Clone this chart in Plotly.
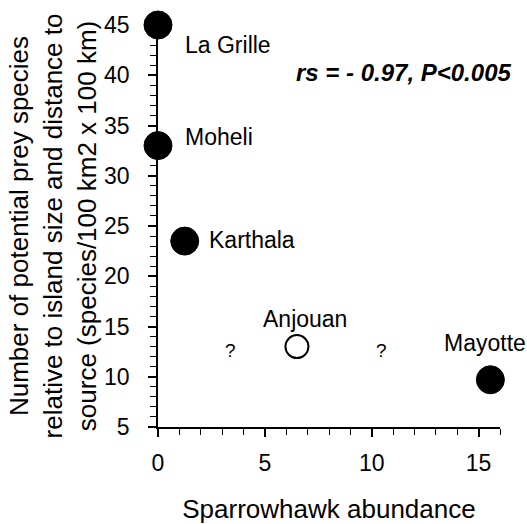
import plotly.graph_objects as go

# ---- data ----
islands = ["La Grille", "Moheli", "Karthala", "Anjouan", "Mayotte"]
sparrowhawk_abundance = [0.0, 0.0, 1.25, 6.5, 15.55]
prey_species_index = [45.0, 33.0, 23.5, 13.0, 9.7]
is_open = [False, False, False, True, False]

label_x = [1.15, 1.15, 2.3, 6.9, 15.28]
label_y = [43.0, 33.9, 23.6, 15.75, 13.35]
label_anchor = ["left", "left", "left", "center", "center"]

question_x = [3.4, 10.47]
question_y = [12.6, 12.6]

stat_text = "rs = - 0.97, P<0.005"

x_ticks = [0, 5, 10, 15]
y_ticks = [5, 10, 15, 20, 25, 30, 35, 40, 45]

FONT = "Liberation Sans, Arial, sans-serif"

fig = go.Figure()

filled_x = [x for x, o in zip(sparrowhawk_abundance, is_open) if not o]
filled_y = [y for y, o in zip(prey_species_index, is_open) if not o]
open_x = [x for x, o in zip(sparrowhawk_abundance, is_open) if o]
open_y = [y for y, o in zip(prey_species_index, is_open) if o]

fig.add_trace(go.Scatter(
    x=filled_x, y=filled_y, mode="markers",
    marker=dict(size=28, color="black", line=dict(color="black", width=1)),
    cliponaxis=False, showlegend=False,
))
fig.add_trace(go.Scatter(
    x=open_x, y=open_y, mode="markers",
    marker=dict(size=23, color="white", line=dict(color="black", width=2)),
    cliponaxis=False, showlegend=False,
))

annotations = []
for name, lx, ly, anc in zip(islands, label_x, label_y, label_anchor):
    annotations.append(dict(
        x=lx, y=ly, xref="x", yref="y", text=name, showarrow=False,
        xanchor=anc, yanchor="middle",
        font=dict(family=FONT, size=23, color="black"),
    ))
for qx, qy in zip(question_x, question_y):
    annotations.append(dict(
        x=qx, y=qy, xref="x", yref="y", text="?", showarrow=False,
        xanchor="center", yanchor="middle",
        font=dict(family=FONT, size=19, color="black"),
    ))
annotations.append(dict(
    x=11.5, y=40.3, xref="x", yref="y", text=stat_text, showarrow=False,
    xanchor="center", yanchor="middle",
    font=dict(family=FONT, size=24, color="black", weight="bold", style="italic"),
))

fig.update_layout(
    width=527, height=524,
    margin=dict(l=158, r=27, t=25, b=97, autoexpand=False),
    paper_bgcolor="white", plot_bgcolor="white",
    font=dict(family=FONT, color="black"),
    annotations=annotations,
    xaxis=dict(
        range=[0, 16], tickvals=x_ticks, ticktext=[str(v) for v in x_ticks],
        showgrid=False, zeroline=False, automargin=False,
        showline=True, linecolor="black", linewidth=1.5,
        ticks="outside", ticklen=8, tickwidth=1.5, tickcolor="black",
        minor=dict(dtick=1, ticks="outside", ticklen=6, tickwidth=1, tickcolor="black"),
        tickfont=dict(family=FONT, size=23, color="black"),
        ticklabelstandoff=7,
        title=dict(text="Sparrowhawk abundance", font=dict(family=FONT, size=26, color="black"), standoff=25),
    ),
    yaxis=dict(
        range=[5, 45], tickvals=y_ticks, ticktext=[str(v) for v in y_ticks],
        showgrid=False, zeroline=False, automargin=False,
        showline=True, linecolor="black", linewidth=1.5,
        ticks="outside", ticklen=8, tickwidth=1.5, tickcolor="black",
        minor=dict(dtick=1, ticks="outside", ticklen=6, tickwidth=1, tickcolor="black"),
        tickfont=dict(family=FONT, size=23, color="black"),
        ticklabelstandoff=14,
        title=dict(text="Number of potential prey species<br>relative to island size and distance to<br>source (species/100 km2 x 100 km)",
                   font=dict(family=FONT, size=26, color="black"), standoff=0),
    ),
)

fig.write_html("out.html")
